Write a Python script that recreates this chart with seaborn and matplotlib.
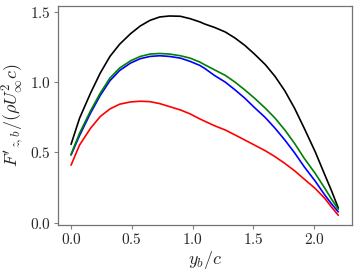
import matplotlib
matplotlib.use("Agg")
import matplotlib.pyplot as plt
import seaborn as sns
import pandas as pd
from matplotlib.ticker import FuncFormatter

# spanwise position y_b/c
yb = [0.0, 0.07, 0.16, 0.24, 0.32, 0.4, 0.49, 0.57, 0.65, 0.73,
      0.81, 0.9, 0.98, 1.06, 1.1, 1.18, 1.27, 1.35, 1.43, 1.51,
      1.6, 1.68, 1.76, 1.84, 1.92, 2.01, 2.09, 2.145, 2.2]

# sectional force F'_{z,b}/(rho U^2 c) for the four cases
fz_black = [0.557, 0.743, 0.921, 1.064, 1.183, 1.27, 1.345, 1.40, 1.44, 1.464,
            1.471, 1.469, 1.452, 1.429, 1.414, 1.39, 1.357, 1.314, 1.262, 1.2,
            1.124, 1.04, 0.938, 0.814, 0.671, 0.504, 0.338, 0.225, 0.104]
fz_blue = [0.481, 0.62, 0.779, 0.905, 1.01, 1.083, 1.136, 1.167, 1.183, 1.188,
           1.183, 1.171, 1.148, 1.119, 1.098, 1.048, 1.0, 0.945, 0.886, 0.819,
           0.747, 0.671, 0.588, 0.497, 0.397, 0.295, 0.195, 0.133, 0.076]
fz_green = [0.486, 0.636, 0.795, 0.921, 1.029, 1.1, 1.152, 1.183, 1.2, 1.204,
            1.2, 1.188, 1.171, 1.143, 1.124, 1.088, 1.048, 1.0, 0.945, 0.886,
            0.814, 0.743, 0.659, 0.564, 0.457, 0.35, 0.243, 0.166, 0.095]
fz_red = [0.409, 0.552, 0.671, 0.755, 0.809, 0.843, 0.859, 0.864, 0.861, 0.847,
          0.826, 0.802, 0.774, 0.738, 0.722, 0.69, 0.659, 0.624, 0.588, 0.552,
          0.511, 0.469, 0.421, 0.369, 0.309, 0.243, 0.171, 0.11, 0.052]

series = {"black": fz_black, "blue": fz_blue, "green": fz_green, "red": fz_red}
colors = {"black": "k", "blue": "b", "green": "g", "red": "r"}

df = pd.concat([pd.DataFrame({"yb": yb, "fz": v, "case": k}) for k, v in series.items()])

sns.set_style("ticks")
plt.rcParams["mathtext.fontset"] = "cm"

fig = plt.figure(figsize=(3.57, 2.74), dpi=100)
ax = fig.add_axes([0.1616, 0.178, 0.8234, 0.800])
sns.lineplot(data=df, x="yb", y="fz", hue="case", palette=colors,
             ax=ax, lw=1.2, legend=False, sort=False)

ax.set_xticks([0.0, 0.5, 1.0, 1.5, 2.0])
ax.set_yticks([0.0, 0.5, 1.0, 1.5])
fmt = FuncFormatter(lambda v, p: f"${v:.1f}$")
ax.xaxis.set_major_formatter(fmt)
ax.yaxis.set_major_formatter(fmt)
ax.tick_params(labelsize=11, length=3, width=0.8, color="0.5", pad=2)
for s in ax.spines.values():
    s.set_color("0.45")
    s.set_linewidth(0.9)
    s.set_visible(True)

ax.set_xlabel(r"$y_b/c$", fontsize=13, labelpad=1)
ax.set_ylabel(r"$F'_{z,b}/(\rho U_\infty^2 c)$", fontsize=13, labelpad=2)

fig.savefig("out.png", dpi=100)
